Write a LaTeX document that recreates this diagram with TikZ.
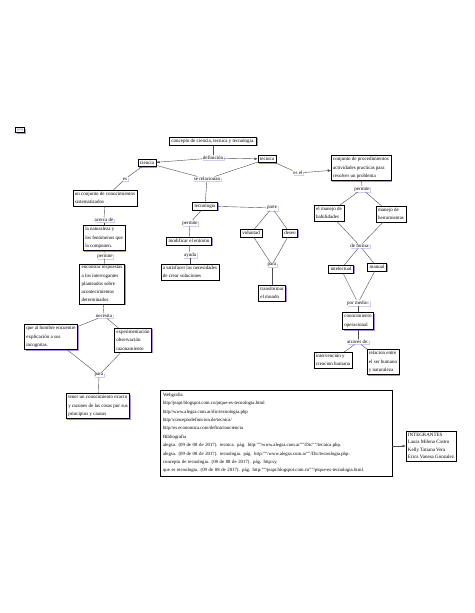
\documentclass[tikz,border=0pt]{standalone}
\usepackage{fontspec}
\setmainfont{Liberation Serif}
\usetikzlibrary{arrows.meta,shadows}
\definecolor{cmshade}{RGB}{172,145,226}
\definecolor{lkshade}{RGB}{214,202,244}
\newcommand{\cmfont}{\fontsize{5}{8.3}\selectfont}
\newcommand{\bibfont}{\fontsize{4.8}{8.4}\selectfont}
\tikzset{
  concept/.style={draw, fill=white, line width=0.45pt, inner sep=2pt, align=left, font=\cmfont,
    drop shadow={shadow xshift=1.2pt, shadow yshift=-1.2pt, fill=cmshade, opacity=1}},
  link/.style={fill=white, inner sep=0.6pt, font=\cmfont,
    drop shadow={shadow xshift=1pt, shadow yshift=-1pt, fill=lkshade, opacity=1}},
  cline/.style={draw=black!70, line width=0.4pt},
  carrow/.style={cline, -{Latex[length=3.2pt,width=2.6pt]}}
}
\begin{document}
\begin{tikzpicture}[x=1pt,y=-1pt]
\useasboundingbox[fill=white] (0,0) rectangle (474,613);

\node[concept, inner sep=1.2pt, font=\fontsize{3.5}{4}\selectfont] (q) at (20,130) {????};

% top
\node[concept] (cpt) at (213,141) {concepto de ciencia, tecnica y tecnologia.};
\node[link] (def) at (213,158) {definición};
\node[concept] (cien) at (147,163) {ciencia};
\node[concept] (tecn) at (267,159) {tecnica};
\node[link] (rel) at (207,179) {se relacionan};
\node[concept] (tlg) at (205,206) {tecnologia};

\draw[cline] (cpt) -- (def);
\draw[carrow] (def) -- (cien);
\draw[carrow] (def) -- (tecn);
\draw[cline] (cien) -- (rel);
\draw[cline] (tecn) -- (rel);
\draw[cline] (rel) -- (tlg);

% ciencia
\node[link] (es) at (125,179) {es};
\node[concept] (conj) at (105,198) {un conjunto de conocimientos\\sistematizados};
\node[link] (acer) at (104,220) {acerca de};
\node[concept] (nat) at (104,238) {la naturaleza y\\los fenómenos que\\la componen.};
\node[link] (perm1) at (105,256) {permite};
\node[concept] (enc) at (102,284) {encontrar respuestas\\a los interrogantes\\planteados sobre\\acontecimientos\\determinados};
\node[link] (nec) at (104,316) {necesita};
\node[concept] (homb) at (51,337) {que al hombre encuentre\\explicación a sus\\incognitas.};
\node[concept] (exp) at (133,340) {experimentación\\observación\\razonamiento};
\node[link] (para1) at (99,375) {para};
\node[concept] (ten) at (98,406) {tener un conocimiento exacto\\y razones de las cosas por sus\\principios y causas};

\draw[cline] (cien) -- (es);
\draw[cline] (es) -- (conj);
\draw[cline] (conj) -- (acer);
\draw[cline] (acer) -- (nat);
\draw[cline] (nat) -- (perm1);
\draw[cline] (perm1) -- (enc);
\draw[cline] (enc) -- (nec);
\draw[cline] (nec) -- (homb);
\draw[cline] (nec) -- (exp);
\draw[cline] (homb) -- (para1);
\draw[cline] (exp) -- (para1);
\draw[cline] (para1) -- (ten);

% tecnologia
\node[link] (perm2) at (190,223) {permite};
\node[concept] (mod) at (189,241) {modificar el entorno};
\node[link] (ayu) at (190,255) {ayuda};
\node[concept] (sat) at (190,272) {a satisfacer las necesidades\\de crear soluciones};
\node[link] (parte) at (272,208) {parte};
\node[concept] (vol) at (251,233) {voluntad};
\node[concept] (des) at (290,233) {deseo};
\node[link] (para2) at (272,265) {para};
\node[concept] (trf) at (272,293) {transformar\\el mundo};

\draw[cline] (tlg) -- (perm2);
\draw[cline] (perm2) -- (mod);
\draw[cline] (mod) -- (ayu);
\draw[cline] (ayu) -- (sat);
\draw[cline] (tlg) -- (parte);
\draw[cline] (parte) -- (vol);
\draw[cline] (parte) -- (des);
\draw[cline] (vol) -- (para2);
\draw[cline] (des) -- (para2);
\draw[cline] (para2) -- (trf);

% tecnica
\node[link] (esel) at (298,173) {es el};
\node[concept] (proc) at (361,168) {conjunto de procedimientos\\actividades practicas para\\resolver un problema};
\node[link] (perm3) at (362,189) {permite};
\node[concept] (hab) at (329,213) {el manejo de\\habilidades};
\node[concept] (her) at (391,214) {manejo de\\herramientas};
\node[link] (form) at (360,246) {de forma:};
\node[concept] (int) at (341,269) {intelectual};
\node[concept] (man) at (377,267) {manual};
\node[link] (med) at (358,303) {por medio:};
\node[concept] (oper) at (358,321) {conocimiento\\operacional};
\node[link] (trav) at (358,342) {através de:};
\node[concept] (intv) at (333,360) {intervención y\\creacion humana};
\node[concept] (rln) at (383,362) {relacion entre\\el ser humano\\y naturaleza};

\draw[cline] (tecn) -- (esel);
\draw[carrow] (esel) -- (proc);
\draw[cline] (proc) -- (perm3);
\draw[cline] (perm3) -- (hab);
\draw[cline] (perm3) -- (her);
\draw[cline] (hab) -- (form);
\draw[cline] (her) -- (form);
\draw[cline] (form) -- (int);
\draw[cline] (form) -- (man);
\draw[cline] (int) -- (med);
\draw[cline] (man) -- (med);
\draw[cline] (med) -- (oper);
\draw[cline] (oper) -- (trav);
\draw[cline] (trav) -- (intv);
\draw[cline] (trav) -- (rln);

% fuentes
\node[concept, font=\bibfont, text width=226pt, inner sep=3pt] (web) at (276,433) {Webgrafia\\
http//jeapt.blogspot.com.co/pique-es-tecnologia.html\\
http//www.alegsa.com.ar/dic/tecnologia.php\\
http//conceptodefinicion.de/tecnica/\\
http//es.economica.com/definicionciencia\\
Bibliografia\\
alegsa. (09 de 08 de 2017). tecnica. pág. http:''''/www.alegsa.com.ar''''/Dic''''/tecnica.php.\\
alegsa. (09 de 08 de 2017). tecnologia. pág. http:''''/www.alegsa.com.ar''''/Dic/tecnologia.php.\\
concepto de tecnologia. (08 de 08 de 2017). pág. http:sy.\\
que es tecnologia. (09 de 08 de 2017). pág. http:''''/jeapt.blogspot.com.co''''/pique-es-tecnologia.html.};
\node[concept, font=\fontsize{5}{7.5}\selectfont] (integ) at (431,446) {INTEGRANTES\\Laura Milena Castro\\Kelly Tatiana Vera\\Erica Vanesa Gonzalez};

\draw[carrow] (web.east |- integ.west) -- (integ.west);
\end{tikzpicture}
\end{document}
